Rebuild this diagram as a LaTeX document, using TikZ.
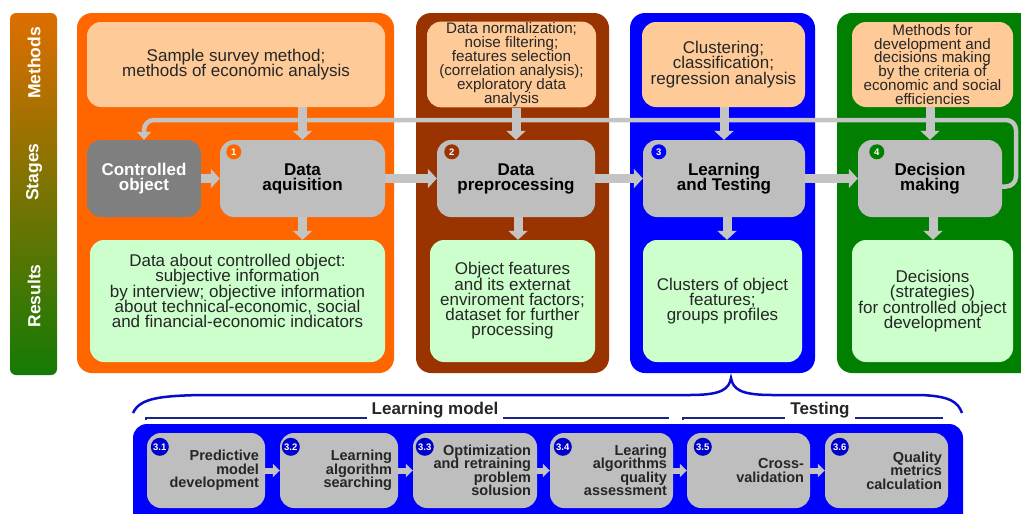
\documentclass[tikz,border=0pt]{standalone}
\usepackage{fontspec}
\setmainfont{Liberation Sans}
\usetikzlibrary{arrows.meta,calc}
\definecolor{cOrange}{HTML}{FF6600}
\definecolor{cBrown}{HTML}{993300}
\definecolor{cBlue}{HTML}{0000FF}
\definecolor{cGreen}{HTML}{007F00}
\definecolor{cPeach}{HTML}{FECB98}
\definecolor{cLight}{HTML}{CCFFCC}
\definecolor{cStage}{HTML}{BEBEBE}
\definecolor{cDark}{HTML}{7F7F7F}
\definecolor{cArrow}{HTML}{C4C4C4}
\definecolor{cText}{HTML}{262626}
\definecolor{cNum}{HTML}{0000CC}
\definecolor{cBrace}{HTML}{0A0ACC}
\definecolor{cBracket}{HTML}{1C2488}
\definecolor{barTop}{HTML}{DE6E00}
\definecolor{barMid}{HTML}{7C6A00}
\definecolor{barBot}{HTML}{147A05}
\newcommand\fbig{\fontsize{17}{15}\selectfont\lineskiplimit=-50pt}
\newcommand\fres{\fontsize{17}{15.3}\selectfont\lineskiplimit=-50pt}
\newcommand\fsmall{\fontsize{15.2}{13.9}\selectfont\lineskiplimit=-50pt}
\newcommand\fstage{\fontsize{17}{15}\selectfont\bfseries\lineskiplimit=-50pt}
\newcommand\fsub{\fontsize{14.5}{13.5}\selectfont\bfseries\lineskiplimit=-50pt}
\begin{document}
\begin{tikzpicture}[x=1pt,y=-1pt,
  meth/.style={fill=cPeach, rounded corners=14pt, minimum height=85pt, inner sep=1pt, align=center, text=cText},
  stagebox/.style={fill=cStage, rounded corners=14pt, minimum height=77pt, inner sep=2pt, align=center, text=black, font=\fstage},
  res/.style={fill=cLight, rounded corners=14pt, minimum height=122pt, inner sep=2pt, align=center, text=cText, font=\fres},
  numc/.style={circle, inner sep=0pt, minimum size=15pt, text=white, font=\fontsize{9.5}{9.5}\selectfont\bfseries},
  subbox/.style={fill=cStage, rounded corners=14pt, minimum height=75pt, inner xsep=6pt, align=right, text=cText, font=\fsub},
  subnum/.style={circle, fill=cNum, inner sep=0pt, minimum size=18pt, text=white, font=\fontsize{9.5}{9.5}\selectfont\bfseries},
  fatarrow/.style={draw=cArrow, line width=9pt, -{Triangle[width=19pt,length=9pt]}},
  thinarrow/.style={draw=cArrow, line width=6pt, -{Triangle[width=13pt,length=7pt]}},
  loopline/.style={draw=cArrow, line width=4.5pt, rounded corners=10pt, -{Triangle[width=14pt,length=8pt]}},
  barlabel/.style={rotate=90, text=white, font=\fontsize{17.5}{17.5}\selectfont\bfseries},
  bracelabel/.style={fill=white, inner xsep=5pt, inner ysep=1pt, text=cText, font=\fontsize{17}{17}\selectfont\bfseries}
]
\useasboundingbox (0,0) rectangle (1021,514);
\fill[white] (0,0) rectangle (1021,514);
% left bar
\shade[rounded corners=6pt, top color=barTop, middle color=barMid, bottom color=barBot] (10,13) rectangle (57,375);
\node[barlabel] (lm) at (34,63) {Methods};
\node[barlabel] (ls) at (34,172) {Stages};
\node[barlabel] (lr) at (34,296) {Results};
% panels
\fill[cOrange, rounded corners=15pt] (77,13) rectangle (394,373);
\fill[cBrown, rounded corners=15pt] (416,13) rectangle (609,373);
\fill[cBlue, rounded corners=15pt] (630,13) rectangle (815,373);
\fill[cGreen, rounded corners=15pt] (837,13) rectangle (1040,373);
% methods
\node[meth, minimum width=298pt, font=\fbig] (m1) at (236,64.5) {Sample survey method;\\methods of economic analysis};
\node[meth, minimum width=169pt, font=\fsmall] (m2) at (511.5,64.5) {Data normalization;\\noise filtering;\\features selection\\(correlation analysis);\\exploratory data\\analysis};
\node[meth, minimum width=163pt, font=\fres] (m3) at (723.5,64.5) {Clustering;\\classification;\\regression analysis};
\node[meth, minimum width=161pt, font=\fsmall] (m4) at (932.5,64.5) {Methods for\\development and\\decisions making\\by the criteria of\\economic and social\\efficiencies};
% stages
\node[stagebox, fill=cDark, text=white, minimum width=114pt] (s0) at (144,178.5) {Controlled\\object};
\node[stagebox, minimum width=165pt] (s1) at (302.5,178.5) {Data\\aquisition};
\node[stagebox, minimum width=158pt] (s2) at (516,178.5) {Data\\preprocessing};
\node[stagebox, minimum width=162pt] (s3) at (724,178.5) {Learning\\and Testing};
\node[stagebox, minimum width=144pt] (s4) at (930,178.5) {Decision\\making};
\node[numc, fill=cOrange] (n1) at ($(s1.north west)+(14,12)$) {1};
\node[numc, fill=cBrown] (n2) at ($(s2.north west)+(15,12)$) {2};
\node[numc, fill=cBlue] (n3) at ($(s3.north west)+(16,12)$) {3};
\node[numc, fill=cGreen] (n4) at ($(s4.north west)+(19,12)$) {4};
% results
\node[res, minimum width=295pt] (r1) at (237.5,301) {};
\node[align=center, text=cText, font=\fres] (r1t) at (237.5,291) {Data about controlled object:\\subjective information\\by interview; objective information\\about technical-economic, social\\and financial-economic indicators};
\node[res, minimum width=165pt] (r2) at (512.5,301) {Object features\\and its externat\\enviroment factors;\\dataset for further\\processing};
\node[res, minimum width=159pt] (r3) at (722.5,301) {Clusters of object\\features;\\groups profiles};
\node[res, minimum width=161pt] (r4) at (932.5,301) {Decisions\\(strategies)\\for controlled object\\development};
% loop
\draw[loopline] ([yshift=-8pt]s4.east) -| (1016,120) -| (s0.north);
% arrows methods -> stages
\draw[fatarrow] (m1.south -| s1.north) -- (s1.north);
\draw[fatarrow] (m2.south -| s2.north) -- (s2.north);
\draw[fatarrow] (m3.south -| s3.north) -- (s3.north);
\draw[fatarrow] (m4.south -| s4.north) -- (s4.north);
% stages -> results
\coordinate (a2) at ([xshift=2pt]s2.south);
\coordinate (a3) at ([xshift=3pt]s3.south);
\coordinate (a4) at ([xshift=3pt]s4.south);
\draw[fatarrow] (s1.south) -- (r1.north -| s1.south);
\draw[fatarrow] (a2) -- (a2 |- r2.north);
\draw[fatarrow] (a3) -- (a3 |- r3.north);
\draw[fatarrow] (a4) -- (a4 |- r4.north);
% horizontal
\draw[fatarrow] (s0.east) -- (s1.west);
\draw[fatarrow] (s1.east) -- (s2.west);
\draw[fatarrow] (s2.east) -- (s3.west);
\draw[fatarrow] (s3.east) -- (s4.west);
% brace
\coordinate (bl) at (133,413);
\coordinate (bp) at (731,378);
\coordinate (br) at (962,413);
\draw[cBrace, line width=2.5pt] (bl) .. controls (140,398) and (160,396) .. (200,395) -- (690,395) .. controls (722,395) and (729,389) .. (bp) .. controls (733,389) and (740,395) .. (772,395) -- (920,395) .. controls (950,396) and (958,402) .. (br);
% brackets
\coordinate (lb1) at (146,420);
\coordinate (lb2) at (669,418);
\coordinate (tb1) at (683,420);
\coordinate (tb2) at (943,418);
\draw[cBracket, line width=1.6pt] (lb1) |- (lb2);
\draw[cBracket, line width=1.6pt] (tb1) |- (tb2);
\node[bracelabel] (lml) at (435,410) {Learning model};
\node[bracelabel] (tsl) at (820,410) {Testing};
% bottom panel
\fill[cBlue, rounded corners=14pt] (133,424) rectangle (963,540);
\node[subbox, minimum width=118pt, text width=106pt] (b1) at (206,470.5) {Predictive\\model\\development};
\node[subbox, minimum width=118pt, text width=106pt] (b2) at (339,470.5) {Learning\\algorithm\\searching};
\node[subbox, minimum width=124pt, text width=112pt] (b3) at (475,470.5) {Optimization\\and retraining\\problem\\solusion};
\node[subbox, minimum width=123pt, text width=111pt] (b4) at (611.5,470.5) {Learing\\algorithms\\quality\\assessment};
\node[subbox, minimum width=123pt, text width=111pt] (b5) at (748.5,470.5) {Cross-\\validation};
\node[subbox, minimum width=123pt, text width=111pt] (b6) at (886.5,470.5) {Quality\\metrics\\calculation};
\node[subnum] (k1) at ($(b1.north west)+(13,14)$) {3.1};
\node[subnum] (k2) at ($(b2.north west)+(11,14)$) {3.2};
\node[subnum] (k3) at ($(b3.north west)+(12,14)$) {3.3};
\node[subnum] (k4) at ($(b4.north west)+(13,14)$) {3.4};
\node[subnum] (k5) at ($(b5.north west)+(16,14)$) {3.5};
\node[subnum] (k6) at ($(b6.north west)+(15,14)$) {3.6};
\draw[thinarrow] (b1.east) -- (b2.west);
\draw[thinarrow] (b2.east) -- (b3.west);
\draw[thinarrow] (b3.east) -- (b4.west);
\draw[thinarrow] (b4.east) -- (b5.west);
\draw[thinarrow] (b5.east) -- (b6.west);
\end{tikzpicture}
\end{document}
